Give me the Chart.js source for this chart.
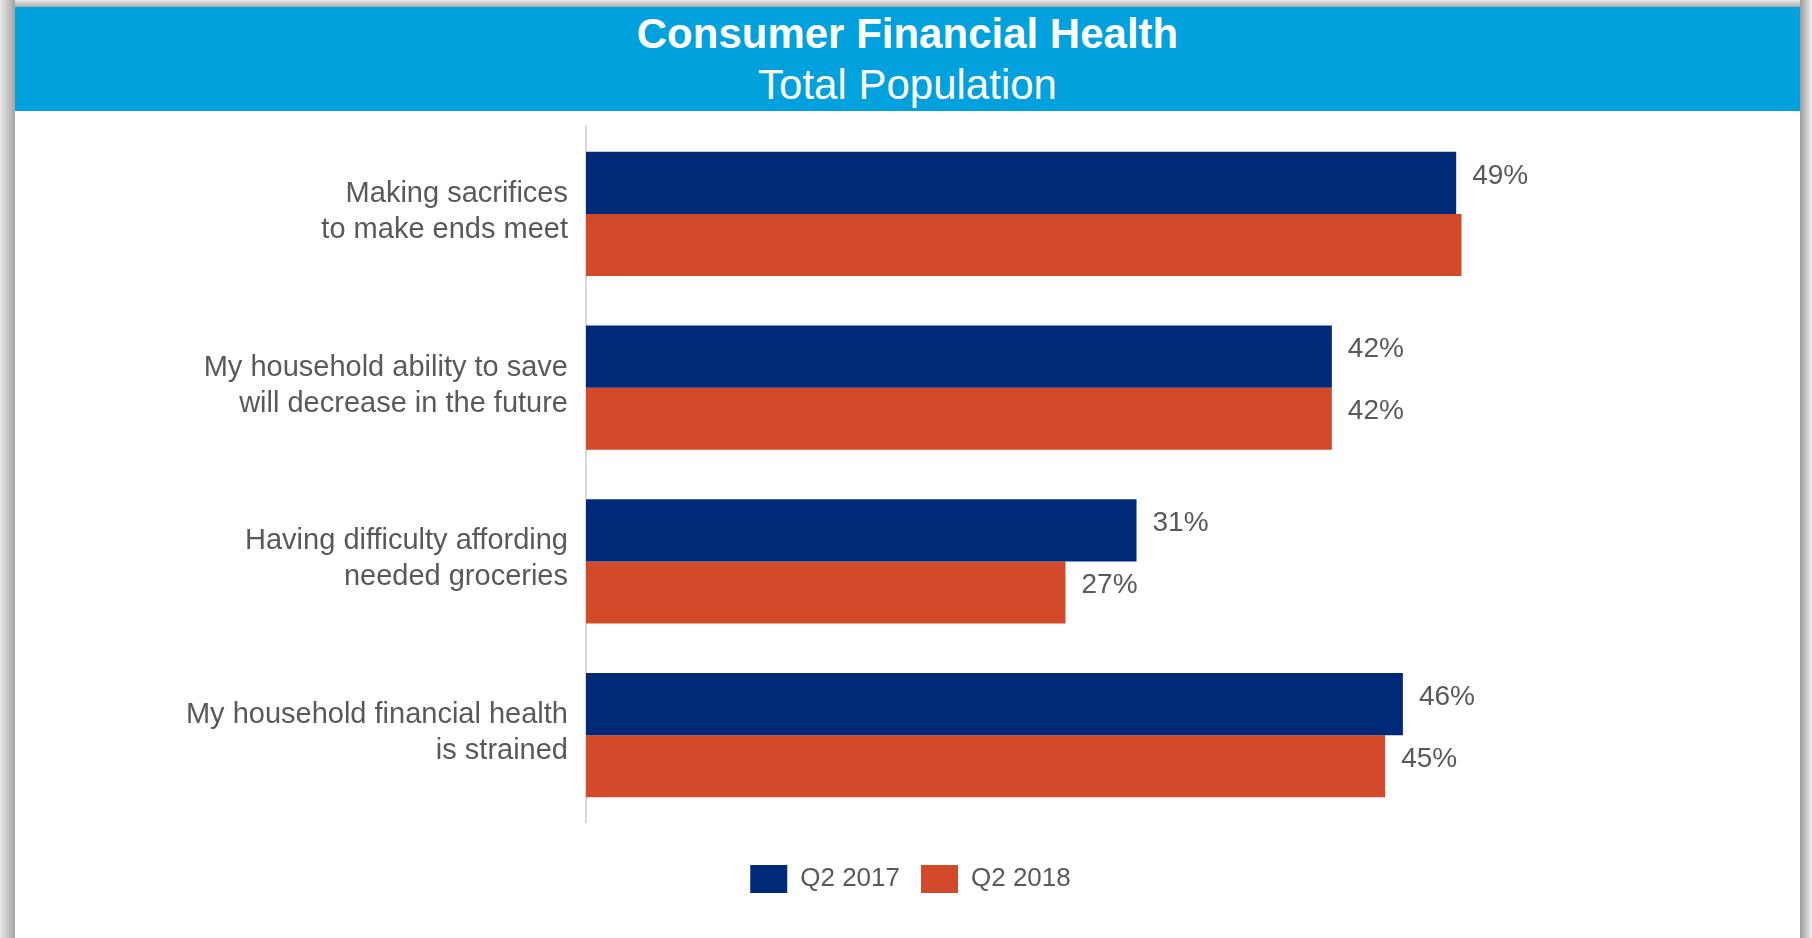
<!DOCTYPE html>
<html>
<head>
<meta charset="utf-8">
<title>Consumer Financial Health</title>
<script src="https://cdn.jsdelivr.net/npm/chart.js@4/dist/chart.umd.min.js"></script>
<style>
  html, body { margin: 0; padding: 0; background: #fff; }
  body { width: 1812px; height: 938px; position: relative; overflow: hidden; font-family: "Liberation Sans", Arial, sans-serif; }
  .shade-left { position: absolute; left: 0; top: 0; width: 15px; height: 938px; background: linear-gradient(to right, #ececec, #a2a2a2); }
  .shade-top { position: absolute; left: 0; top: 0; width: 1812px; height: 7px; background: linear-gradient(to bottom, #ececec, #a8a8a8); }
  .shade-right { position: absolute; left: 1800px; top: 0; width: 12px; height: 938px; background: linear-gradient(to right, #9c9c9c, #efefef); }
  .panel { position: absolute; left: 15px; top: 7px; width: 1785px; height: 931px; background: #fff; }
  .header { position: absolute; left: 15px; top: 7px; width: 1785px; height: 104px; background: #00a1dc; color: #fff; text-align: center; }
  .header .t1 { position: absolute; left: 0; right: 0; top: 6px; font-size: 42px; line-height: 42px; font-weight: bold; }
  .header .t2 { position: absolute; left: 0; right: 0; top: 57px; font-size: 42px; line-height: 42px; }
  .chart-box { position: absolute; left: 15px; top: 111px; width: 1785px; height: 827px; }
</style>
</head>
<body>
<div class="shade-top"></div>
<div class="shade-left"></div>
<div class="shade-right"></div>
<div class="panel"></div>
<div class="header">
  <div class="t1">Consumer Financial Health</div>
  <div class="t2">Total Population</div>
</div>
<div class="chart-box"><canvas id="chart"></canvas></div>
<script>
// Survey statements (two-line labels) and shares of respondents, in percent
const categories = [
  ["Making sacrifices", "to make ends meet"],
  ["My household ability to save", "will decrease in the future"],
  ["Having difficulty affording", "needed groceries"],
  ["My household financial health", "is strained"]
];
const seriesNames = ["Q2 2017", "Q2 2018"];
const q2017 = [49, 42, 31, 46];
const q2018 = [49.3, 42, 27, 45];
// which bars carry a printed value
const q2017Shown = [true, true, true, true];
const q2018Shown = [false, true, true, true];

const NAVY = "#002a77";
const ORANGE = "#d34a2a";
const GREY_TEXT = "#595959";
const FONT = "'Liberation Sans', Arial, sans-serif";

Chart.defaults.font.family = FONT;
Chart.defaults.color = GREY_TEXT;

// prints the rounded percentage just past the end of each bar
const valueLabels = {
  id: "valueLabels",
  afterDatasetsDraw(chart) {
    const ctx = chart.ctx;
    ctx.save();
    ctx.font = "28px " + FONT;
    ctx.fillStyle = GREY_TEXT;
    ctx.textAlign = "left";
    ctx.textBaseline = "middle";
    chart.data.datasets.forEach((ds, i) => {
      const meta = chart.getDatasetMeta(i);
      meta.data.forEach((bar, j) => {
        if (!ds.shown[j]) return;
        ctx.fillText(Math.round(ds.data[j]) + "%", bar.x + 16, bar.y - 7);
      });
    });
    ctx.restore();
  }
};

new Chart(document.getElementById("chart"), {
  type: "bar",
  data: {
    labels: categories,
    datasets: [
      { label: seriesNames[0], data: q2017, shown: q2017Shown, backgroundColor: NAVY,
        categoryPercentage: 0.714, barPercentage: 1.0 },
      { label: seriesNames[1], data: q2018, shown: q2018Shown, backgroundColor: ORANGE,
        categoryPercentage: 0.714, barPercentage: 1.0 }
    ]
  },
  options: {
    indexAxis: "y",
    responsive: true,
    maintainAspectRatio: false,
    animation: false,
    layout: { padding: { top: 16, left: 6, right: 0, bottom: 35 } },
    scales: {
      x: {
        min: 0,
        max: 68.36,
        grid: { display: false, drawTicks: false },
        border: { display: false },
        ticks: { display: false },
        afterFit(scale) { scale.height = 22; }
      },
      y: {
        grid: { display: false, drawTicks: false },
        border: { display: true, color: "#d9d9d9", width: 2 },
        ticks: {
          padding: 18,
          labelOffset: -2,
          color: GREY_TEXT,
          font: { size: 29, lineHeight: 1.24 }
        },
        afterFit(scale) {
          scale.width = 565;
          scale.paddingTop = 0;
          scale.paddingBottom = 0;
        }
      }
    },
    plugins: {
      legend: {
        position: "bottom",
        labels: {
          boxWidth: 37,
          boxHeight: 28,
          padding: 21,
          color: GREY_TEXT,
          font: { size: 26 }
        }
      },
      tooltip: { enabled: false },
      title: { display: false }
    }
  },
  plugins: [valueLabels]
});
</script>
</body>
</html>
